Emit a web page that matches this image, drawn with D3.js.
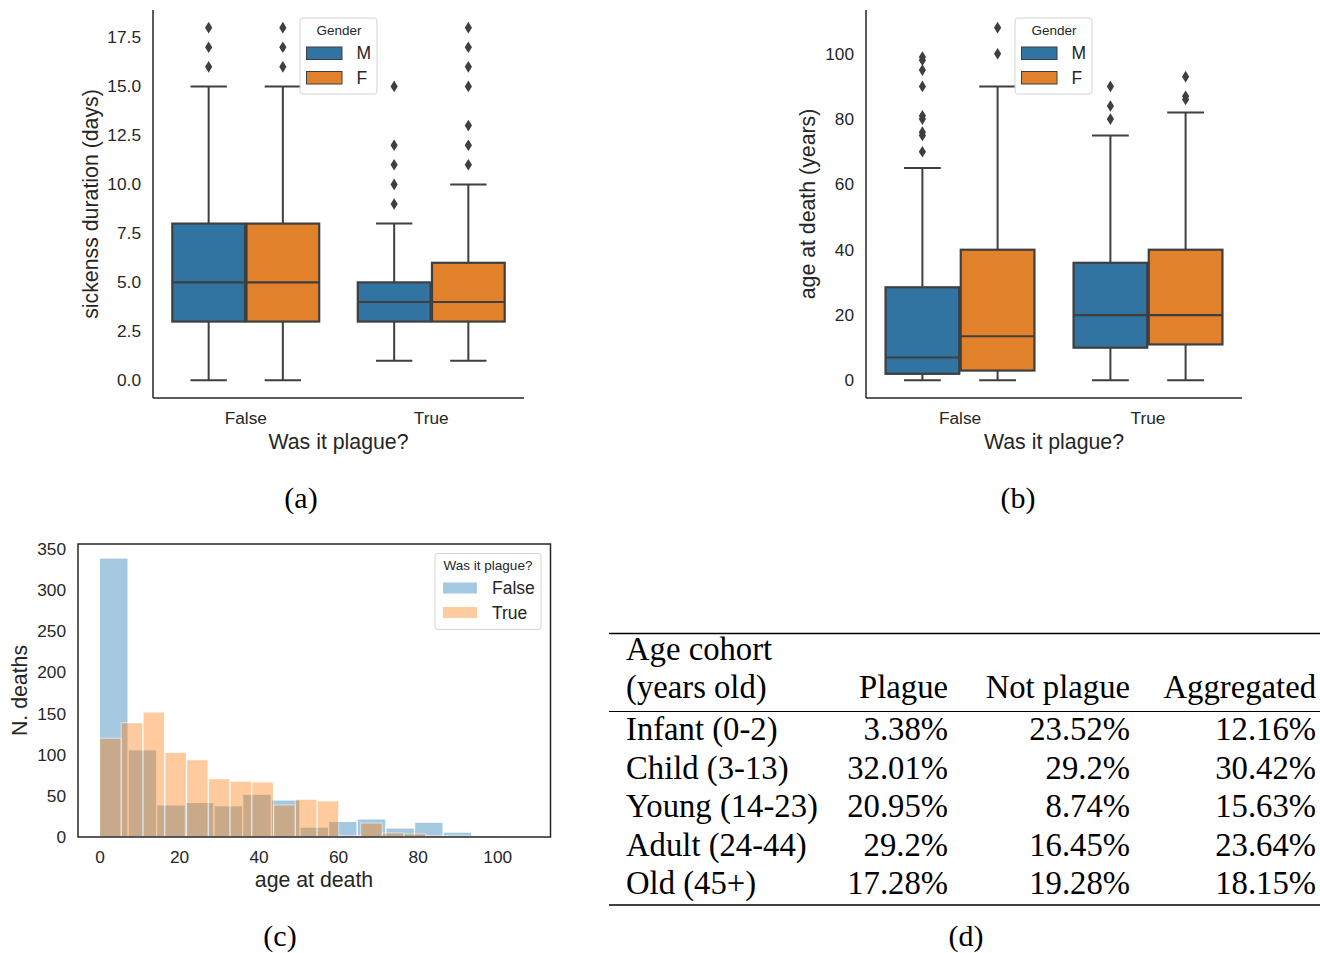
<!DOCTYPE html>
<html>
<head>
<meta charset="utf-8">
<script src="https://cdn.jsdelivr.net/npm/d3@7"></script>
<style>
  body { margin: 0; background: #fff; }
  svg text { font-family: "Liberation Sans", Arial, sans-serif; fill: #262626; }
  svg text.tex { font-family: "Liberation Serif", "Times New Roman", serif; fill: #000; }
</style>
</head>
<body>
<svg id="fig" width="1320" height="953"></svg>
<script>
// ---- data ----
const plagueCats = ["False", "True"];
const genders = ["M", "F"];
const genderColors = ["#3274a1", "#e1812c"];

// box stats: [whisker low, q1, median, q3, whisker high]
const durationBoxes = [
  {plague: "False", gender: "M", stats: [0, 3, 5, 8, 15], fliers: [16, 17, 18]},
  {plague: "False", gender: "F", stats: [0, 3, 5, 8, 15], fliers: [16, 17, 18]},
  {plague: "True", gender: "M", stats: [1, 3, 4, 5, 8], fliers: [9, 10, 11, 12, 15]},
  {plague: "True", gender: "F", stats: [1, 3, 4, 6, 10], fliers: [11, 12, 13, 15, 16, 17, 18]}
];
const durationTicks = [0, 2.5, 5, 7.5, 10, 12.5, 15, 17.5];

const ageBoxes = [
  {plague: "False", gender: "M", stats: [0, 2, 7, 28.5, 65], fliers: [70, 75, 76, 80, 81, 90, 95, 98, 99]},
  {plague: "False", gender: "F", stats: [0, 3, 13.5, 40, 90], fliers: [100, 108]},
  {plague: "True", gender: "M", stats: [0, 10, 20, 36, 75], fliers: [80, 84, 90]},
  {plague: "True", gender: "F", stats: [0, 11, 20, 40, 82], fliers: [86, 87, 93]}
];
const ageTicks = [0, 20, 40, 60, 80, 100];

// histogram of age at death, equal-width bins over each range
const histRangeFalse = [0, 108];
const histCountsFalse = [339, 106, 39, 42, 38, 52, 45, 12, 19, 22, 11, 18, 6, 2, 1];
const histRangeTrue = [0, 93];
const histCountsTrue = [120, 139, 152, 103, 94, 71, 68, 67, 39, 46, 44, 2, 17, 5, 4, 2, 2];
const histXTicks = [0, 20, 40, 60, 80, 100];
const histYTicks = [0, 50, 100, 150, 200, 250, 300, 350];
const histColors = ["#1f77b4", "#ff7f0e"];

// table
const cohorts = ["Infant (0-2)", "Child (3-13)", "Young (14-23)", "Adult (24-44)", "Old (45+)"];
const tableCols = ["Plague", "Not plague", "Aggregated"];
const pctPlague = ["3.38%", "32.01%", "20.95%", "29.2%", "17.28%"];
const pctNotPlague = ["23.52%", "29.2%", "8.74%", "16.45%", "19.28%"];
const pctAggregated = ["12.16%", "30.42%", "15.63%", "23.64%", "18.15%"];

const ink = "#262626";
const boxInk = "#3f3f3f";
const tickSize = 17.3;
const labelSize = 21.3;
const svg = d3.select("#fig");
svg.append("rect").attr("width", 1320).attr("height", 953).attr("fill", "#fff");

function styleTicks(axisG, size) {
  axisG.select(".domain").remove();
  axisG.selectAll("text")
    .attr("font-size", size)
    .attr("font-family", null)
    .attr("fill", ink);
}

// ---- boxplot panels (a), (b) ----
function boxPanel(cfg) {
  const g = svg.append("g");
  const x = d3.scaleBand().domain(plagueCats).range([cfg.left, cfg.right]);
  const hue = d3.scaleBand().domain(genders).range([0, x.bandwidth()]).paddingOuter(0.25);
  const y = d3.scaleLinear().domain(cfg.domain).range([cfg.bottom, cfg.top]);
  const boxW = hue.bandwidth() * 0.98;

  const yAxis = g.append("g").attr("transform", `translate(${cfg.left},0)`)
    .call(d3.axisLeft(y).tickValues(cfg.ticks).tickFormat(cfg.fmt).tickSize(0).tickPadding(12));
  styleTicks(yAxis, tickSize);
  const xAxis = g.append("g").attr("transform", `translate(0,${cfg.bottom})`)
    .call(d3.axisBottom(x).tickSize(0).tickPadding(14));
  styleTicks(xAxis, tickSize);

  g.append("line").attr("x1", cfg.left).attr("x2", cfg.left).attr("y1", cfg.top).attr("y2", cfg.bottom)
    .attr("stroke", ink).attr("stroke-width", 1.5);
  g.append("line").attr("x1", cfg.left).attr("x2", cfg.right).attr("y1", cfg.bottom).attr("y2", cfg.bottom)
    .attr("stroke", ink).attr("stroke-width", 1.5);

  const boxes = g.selectAll("g.box").data(cfg.boxes).join("g")
    .attr("class", "box")
    .attr("transform", d => `translate(${x(d.plague) + hue(d.gender) + hue.bandwidth() / 2},0)`);

  boxes.each(function (d) {
    const b = d3.select(this);
    const [lo, q1, med, q3, hi] = d.stats;
    b.append("line").attr("x1", 0).attr("x2", 0).attr("y1", y(q3)).attr("y2", y(hi))
      .attr("stroke", boxInk).attr("stroke-width", 2);
    b.append("line").attr("x1", 0).attr("x2", 0).attr("y1", y(q1)).attr("y2", y(lo))
      .attr("stroke", boxInk).attr("stroke-width", 2);
    [lo, hi].forEach(v => {
      b.append("line").attr("x1", -boxW / 4).attr("x2", boxW / 4).attr("y1", y(v)).attr("y2", y(v))
        .attr("stroke", boxInk).attr("stroke-width", 2);
    });
    b.append("rect").attr("x", -boxW / 2).attr("width", boxW)
      .attr("y", y(q3)).attr("height", y(q1) - y(q3))
      .attr("fill", genderColors[genders.indexOf(d.gender)])
      .attr("stroke", boxInk).attr("stroke-width", 2.2);
    b.append("line").attr("x1", -boxW / 2).attr("x2", boxW / 2).attr("y1", y(med)).attr("y2", y(med))
      .attr("stroke", boxInk).attr("stroke-width", 2.2);
    b.selectAll("path.flier").data(d.fliers).join("path")
      .attr("class", "flier")
      .attr("d", "M0,-5.8L3.6,0L0,5.8L-3.6,0Z")
      .attr("transform", v => `translate(0,${y(v)})`)
      .attr("fill", boxInk);
  });

  // axis labels
  g.append("text").attr("transform", `translate(${cfg.ylabelX},${(cfg.top + cfg.bottom) / 2}) rotate(-90)`)
    .attr("text-anchor", "middle").attr("dy", "0.35em").attr("font-size", labelSize).text(cfg.ylabel);
  g.append("text").attr("x", (cfg.left + cfg.right) / 2).attr("y", 442)
    .attr("text-anchor", "middle").attr("dy", "0.35em").attr("font-size", labelSize).text("Was it plague?");

  // legend
  const lg = g.append("g").attr("transform", `translate(${cfg.legendX},18)`);
  lg.append("rect").attr("width", 77).attr("height", 76).attr("rx", 3)
    .attr("fill", "#fff").attr("fill-opacity", 0.8).attr("stroke", "#d4d4d4");
  lg.append("text").attr("x", 39).attr("y", 12.5).attr("dy", "0.35em")
    .attr("text-anchor", "middle").attr("font-size", 13.5).text("Gender");
  genders.forEach((gd, i) => {
    lg.append("rect").attr("x", 6.5).attr("y", 29 + i * 24.5).attr("width", 35.5).attr("height", 12.5)
      .attr("fill", genderColors[i]).attr("stroke", boxInk).attr("stroke-width", 1);
    lg.append("text").attr("x", 56.5).attr("y", 35.2 + i * 24.5).attr("dy", "0.35em")
      .attr("font-size", 17.5).text(gd);
  });

  svg.append("text").attr("class", "tex").attr("x", cfg.captionX).attr("y", 508)
    .attr("text-anchor", "middle").attr("font-size", 30).text(cfg.caption);
}

boxPanel({
  left: 153, right: 524, top: 10, bottom: 398,
  domain: [-0.9, 18.9], ticks: durationTicks, fmt: d3.format(".1f"),
  boxes: durationBoxes, ylabel: "sickenss duration (days)", ylabelX: 91,
  legendX: 300, caption: "(a)", captionX: 301
});
boxPanel({
  left: 866, right: 1242, top: 10, bottom: 398,
  domain: [-5.4, 113.4], ticks: ageTicks, fmt: d3.format("d"),
  boxes: ageBoxes, ylabel: "age at death (years)", ylabelX: 808,
  legendX: 1015, caption: "(b)", captionX: 1018
});

// ---- histogram (c) ----
(function () {
  const left = 78, right = 550.5, top = 544, bottom = 837;
  const g = svg.append("g");
  const x = d3.scaleLinear().domain([-5.4, 113.4]).range([left, right]);
  const y = d3.scaleLinear().domain([0, 356]).range([bottom, top]);

  function binsOf(range, counts) {
    const w = (range[1] - range[0]) / counts.length;
    return counts.map((c, i) => ({x0: range[0] + i * w, x1: range[0] + (i + 1) * w, n: c}));
  }
  [[histRangeFalse, histCountsFalse], [histRangeTrue, histCountsTrue]].forEach(([r, c], k) => {
    g.append("g").selectAll("rect").data(binsOf(r, c)).join("rect")
      .attr("x", d => x(d.x0)).attr("width", d => x(d.x1) - x(d.x0))
      .attr("y", d => y(d.n)).attr("height", d => y(0) - y(d.n))
      .attr("fill", histColors[k]).attr("stroke", "#fff").attr("stroke-width", 1.2)
      .attr("opacity", 0.4);
  });

  const yAxis = g.append("g").attr("transform", `translate(${left},0)`)
    .call(d3.axisLeft(y).tickValues(histYTicks).tickSize(0).tickPadding(12));
  styleTicks(yAxis, tickSize);
  const xAxis = g.append("g").attr("transform", `translate(0,${bottom})`)
    .call(d3.axisBottom(x).tickValues(histXTicks).tickSize(0).tickPadding(14));
  styleTicks(xAxis, tickSize);

  g.append("rect").attr("x", left).attr("y", top).attr("width", right - left).attr("height", bottom - top)
    .attr("fill", "none").attr("stroke", ink).attr("stroke-width", 1.5);

  g.append("text").attr("transform", `translate(20,${(top + bottom) / 2}) rotate(-90)`)
    .attr("text-anchor", "middle").attr("dy", "0.35em").attr("font-size", labelSize).text("N. deaths");
  g.append("text").attr("x", 314).attr("y", 880).attr("dy", "0.35em")
    .attr("text-anchor", "middle").attr("font-size", labelSize).text("age at death");

  const lg = g.append("g").attr("transform", "translate(435,553.5)");
  lg.append("rect").attr("width", 106).attr("height", 76).attr("rx", 3)
    .attr("fill", "#fff").attr("fill-opacity", 0.8).attr("stroke", "#d4d4d4");
  lg.append("text").attr("x", 53).attr("y", 11.5).attr("dy", "0.35em")
    .attr("text-anchor", "middle").attr("font-size", 13.5).text("Was it plague?");
  plagueCats.forEach((p, i) => {
    lg.append("rect").attr("x", 8).attr("y", 29 + i * 24.5).attr("width", 34).attr("height", 11)
      .attr("fill", histColors[i]).attr("opacity", 0.4);
    lg.append("text").attr("x", 57).attr("y", 34.5 + i * 24.5).attr("dy", "0.35em")
      .attr("font-size", 17.5).text(p);
  });

  svg.append("text").attr("class", "tex").attr("x", 280).attr("y", 946)
    .attr("text-anchor", "middle").attr("font-size", 30).text("(c)");
})();

// ---- table (d) ----
(function () {
  const g = svg.append("g");
  const rowY = d3.scalePoint().domain(cohorts).range([740, 894]);
  const colX = d3.scaleOrdinal().domain(tableCols).range([948, 1130, 1316]);
  const firstX = 626;
  const fs = 32.7;

  g.append("line").attr("x1", 609).attr("x2", 1320).attr("y1", 633.5).attr("y2", 633.5)
    .attr("stroke", "#000").attr("stroke-width", 1.6);
  g.append("line").attr("x1", 609).attr("x2", 1320).attr("y1", 711.5).attr("y2", 711.5)
    .attr("stroke", "#000").attr("stroke-width", 1);
  g.append("line").attr("x1", 609).attr("x2", 1320).attr("y1", 905).attr("y2", 905)
    .attr("stroke", "#000").attr("stroke-width", 1.6);

  g.append("text").attr("class", "tex").attr("x", firstX).attr("y", 660).attr("font-size", fs).text("Age cohort");
  g.append("text").attr("class", "tex").attr("x", firstX).attr("y", 698).attr("font-size", fs).text("(years old)");
  g.selectAll("text.head").data(tableCols).join("text")
    .attr("class", "tex head").attr("x", d => colX(d)).attr("y", 698)
    .attr("text-anchor", "end").attr("font-size", fs).text(d => d);

  g.selectAll("text.cohort").data(cohorts).join("text")
    .attr("class", "tex cohort").attr("x", firstX).attr("y", d => rowY(d))
    .attr("font-size", fs).text(d => d);

  [pctPlague, pctNotPlague, pctAggregated].forEach((vals, c) => {
    g.append("g").selectAll("text").data(vals).join("text")
      .attr("class", "tex").attr("x", colX(tableCols[c])).attr("y", (d, i) => rowY(cohorts[i]))
      .attr("text-anchor", "end").attr("font-size", fs).text(d => d);
  });

  svg.append("text").attr("class", "tex").attr("x", 966).attr("y", 946)
    .attr("text-anchor", "middle").attr("font-size", 30).text("(d)");
})();
</script>
</body>
</html>
